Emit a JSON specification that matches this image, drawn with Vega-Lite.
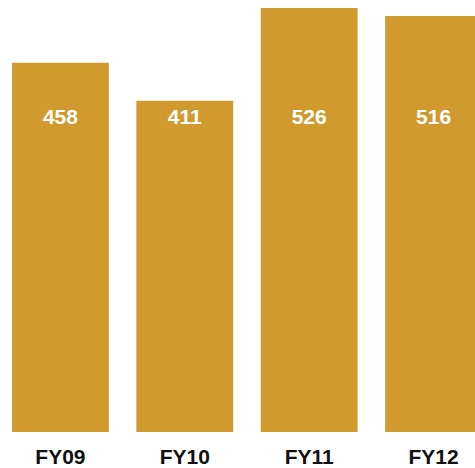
{
  "$schema": "https://vega.github.io/schema/vega-lite/v6.json",
  "autosize": "none",
  "padding": {"left": 0, "top": 0, "right": 0, "bottom": 36},
  "width": 494,
  "height": 432,
  "background": "white",
  "data": {"values": [
    {"year": "FY09", "value": 458},
    {"year": "FY10", "value": 411},
    {"year": "FY11", "value": 526},
    {"year": "FY12", "value": 516}
  ]},
  "config": {"view": {"stroke": null}},
  "encoding": {
    "x": {
      "field": "year", "type": "nominal", "sort": null,
      "scale": {"paddingInner": 0.221, "paddingOuter": 0.096},
      "axis": {"title": null, "domain": false, "ticks": false, "tickSize": 0, "labelPadding": 14, "labelAngle": 0,
               "labelFont": "Liberation Sans", "labelFontSize": 21, "labelFontWeight": "bold", "labelColor": "#111111"}
    }
  },
  "layer": [
    {
      "mark": {"type": "bar", "color": "#D19A2E"},
      "encoding": {
        "y": {"field": "value", "type": "quantitative", "scale": {"domain": [0, 536]}, "axis": null}
      }
    },
    {
      "mark": {"type": "text", "color": "white", "font": "Liberation Sans", "fontSize": 21, "fontWeight": "bold", "baseline": "middle"},
      "encoding": {
        "y": {"datum": 390, "type": "quantitative", "scale": {"domain": [0, 536]}},
        "text": {"field": "value", "type": "quantitative"}
      }
    }
  ]
}
